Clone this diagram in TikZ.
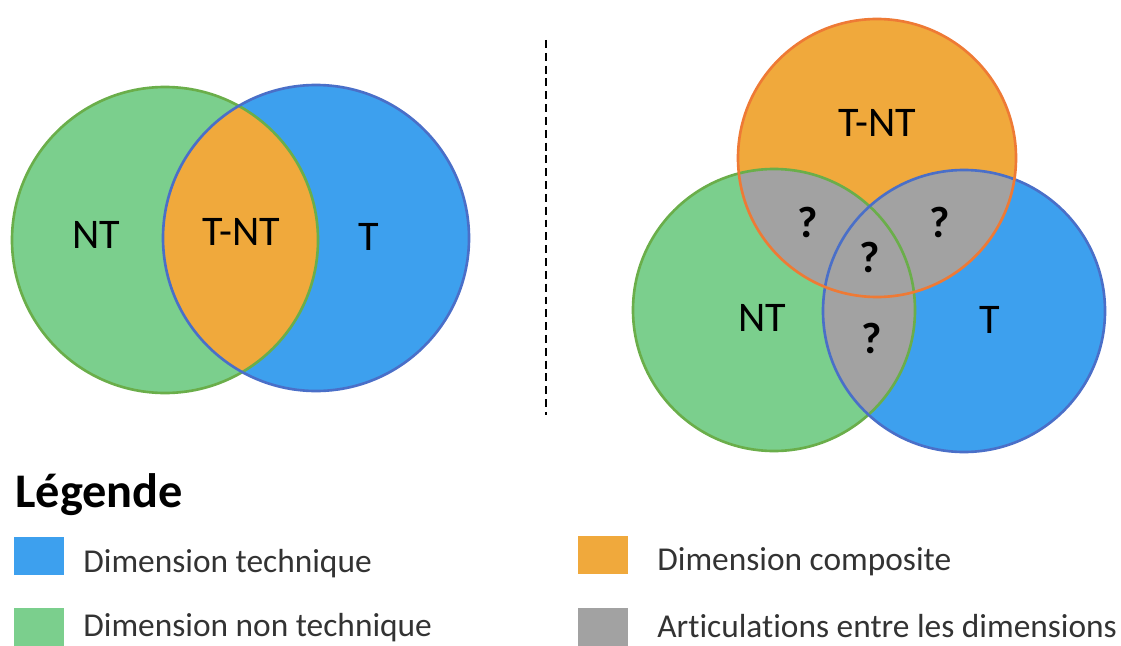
\documentclass[tikz,border=0pt]{standalone}
\usepackage{fontspec}
\setmainfont[Ligatures=NoCommon]{Carlito}
\usetikzlibrary{positioning}

\definecolor{ntfill}{HTML}{7BCF8D}
\definecolor{ntline}{HTML}{6AAE4A}
\definecolor{tfill}{HTML}{3DA0EE}
\definecolor{tline}{HTML}{4A6FC8}
\definecolor{tntfill}{HTML}{F0A93C}
\definecolor{tntline}{HTML}{EE7A35}
\definecolor{artfill}{HTML}{A2A2A2}

\tikzset{
  rim/.style={line width=1.5pt},
  lbl/.style={font=\fontsize{24}{28}\selectfont},
  qmark/.style={font=\bfseries\fontsize{25}{30}\selectfont},
  legbox/.style={minimum width=1cm, minimum height=0.76cm, inner sep=0pt},
  legtext/.style={font=\fontsize{19}{22}\selectfont, text=black!80, anchor=base west, inner sep=0pt},
}

\begin{document}
\begin{tikzpicture}[x=0.02cm, y=-0.02cm]
  \useasboundingbox (0,0) rectangle (1121,645);

  % left: two dimensions
  \coordinate (gL) at (165,240);
  \coordinate (bL) at (316,238);
  \fill[ntfill] (gL) circle [radius=153];
  \fill[tfill] (bL) circle [radius=153];
  \begin{scope}
    \clip (gL) circle [radius=153];
    \fill[tntfill] (bL) circle [radius=153];
  \end{scope}
  \draw[rim, ntline] (gL) circle [radius=153];
  \draw[rim, tline] (bL) circle [radius=153];
  \node[lbl] (ntL) at (96,235) {NT};
  \node[lbl] (tntL) at (241,232) {T-NT};
  \node[lbl] (tL) at (369,237) {T};

  % separator
  \coordinate (sepA) at (546,40);
  \coordinate (sepB) at (546,415);
  \draw[line width=1.2pt, dash pattern=on 4.5pt off 2.8pt] (sepA) -- (sepB);

  % right: three dimensions
  \coordinate (oR) at (877,158);
  \coordinate (gR) at (774,310);
  \coordinate (bR) at (964,311);
  \fill[tntfill] (oR) circle [radius=139];
  \fill[ntfill] (gR) circle [radius=141];
  \fill[tfill] (bR) circle [radius=141];
  \begin{scope}
    \clip (oR) circle [radius=139];
    \fill[artfill] (gR) circle [radius=141];
    \fill[artfill] (bR) circle [radius=141];
  \end{scope}
  \begin{scope}
    \clip (gR) circle [radius=141];
    \fill[artfill] (bR) circle [radius=141];
  \end{scope}
  \draw[rim, ntline] (gR) circle [radius=141];
  \draw[rim, tline] (bR) circle [radius=141];
  \draw[rim, tntline] (oR) circle [radius=139];
  \node[lbl] (tntR) at (877,123) {T-NT};
  \node[lbl] (ntR) at (762,318) {NT};
  \node[lbl] (tR) at (990,320) {T};
  \node[qmark] (qa) at (808,222) {?};
  \node[qmark] (qb) at (940,222) {?};
  \node[qmark] (qc) at (870,257) {?};
  \node[qmark] (qd) at (872,338) {?};

  % legend
  \node[font=\bfseries\fontsize{27.5}{32}\selectfont, anchor=base west, inner sep=0pt] (leg) at (15,507) {Légende};
  \node[legbox, fill=tfill] (boxT) at (39,556) {};
  \node[legbox, fill=ntfill] (boxNT) at (39,627) {};
  \node[legbox, fill=tntfill] (boxTNT) at (603,555) {};
  \node[legbox, fill=artfill] (boxArt) at (603,627) {};
  \node[legtext] (txtT) at (83,572) {Dimension technique};
  \node[legtext] (txtNT) at (83,636) {Dimension non technique};
  \node[legtext] (txtTNT) at (657,570) {Dimension composite};
  \node[legtext] (txtArt) at (657,637) {Articulations entre les dimensions};
\end{tikzpicture}
\end{document}
